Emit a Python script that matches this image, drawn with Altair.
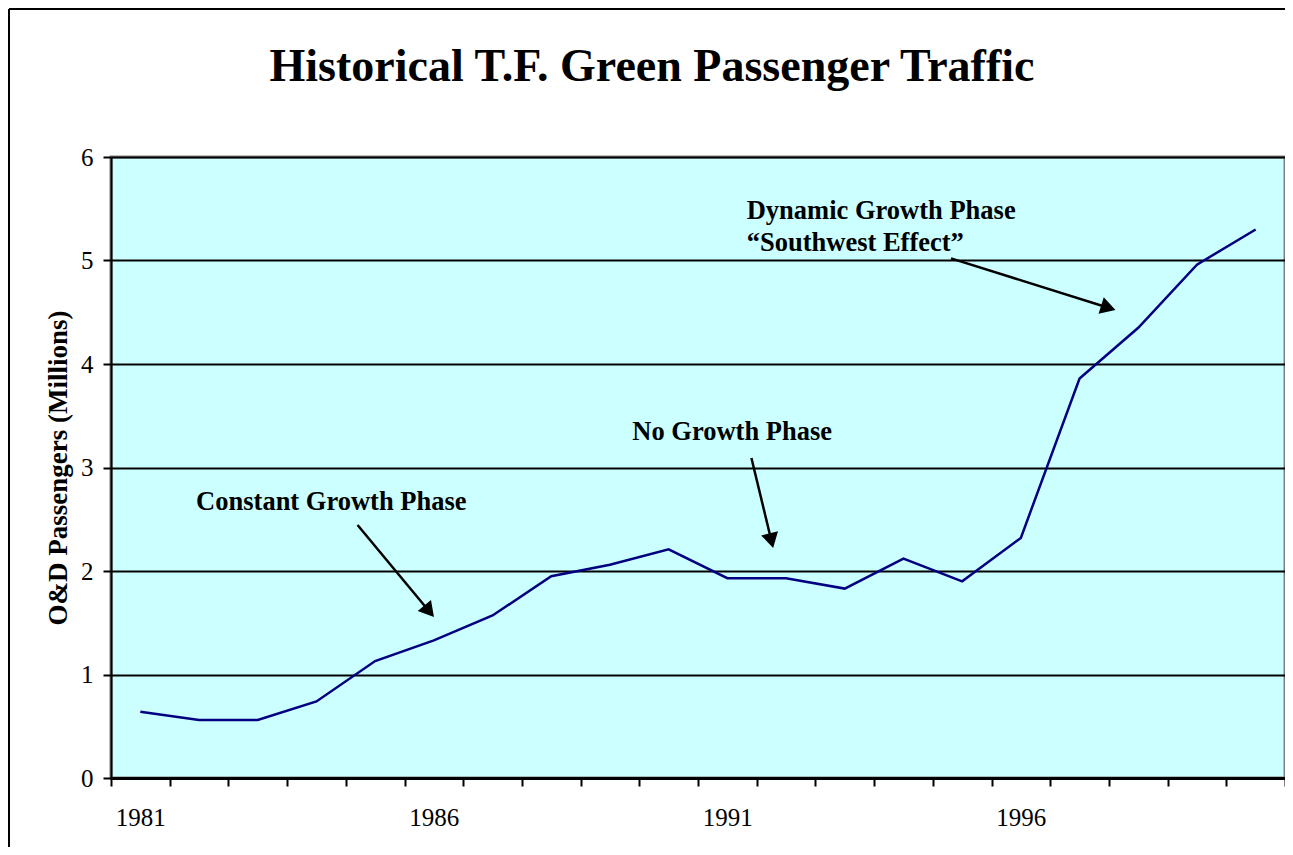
import altair as alt
import pandas as pd

# ---- data ----
years = list(range(1981, 2001))
passengers = [0.64, 0.56, 0.56, 0.74, 1.13, 1.33, 1.57, 1.95, 2.06, 2.21,
              1.93, 1.93, 1.83, 2.12, 1.90, 2.32, 3.86, 4.35, 4.96, 5.30]

title_text = ["Historical T.F. Green Passenger Traffic"]
y_title = "O&D Passengers (Millions)"

note_text = ["Dynamic Growth Phase", "\u201cSouthwest Effect\u201d",
             "Constant Growth Phase", "No Growth Phase"]
note_x = [1991.33, 1991.33, 1981.95, 1989.38]
note_y = [5.40, 5.09, 2.589, 3.266]

arrow_x0 = [1994.81, 1984.70, 1991.41]
arrow_y0 = [5.02, 2.444, 3.092]
arrow_x1 = [1997.49, 1985.92, 1991.75]
arrow_y1 = [4.544, 1.611, 2.293]
arrow_angle = [107.5, 140.1, 166.3]

tick_values = [y - 0.5 for y in years] + [2000.5]
y_ticks = [0, 1, 2, 3, 4, 5, 6]

W, H = 1174, 621
STEP = W / 20.0
FONT = "Liberation Serif"

df_line = pd.DataFrame({"year": years, "pax": passengers})
df_notes = pd.DataFrame({"t": note_text, "x": note_x, "y": note_y})
df_arrows = pd.DataFrame({"x": arrow_x0, "y": arrow_y0, "x2": arrow_x1,
                          "y2": arrow_y1, "ang": arrow_angle})
df_title = pd.DataFrame({"t": title_text})

xscale = alt.Scale(domain=[1980.5, 2000.5], nice=False, zero=False)
yscale = alt.Scale(domain=[0, 6], nice=False, zero=True)

xaxis = alt.Axis(values=tick_values, grid=False,
                 labelExpr="((datum.value - 1980.5) % 5 == 0 && datum.value < 2000) ? format(datum.value + 0.5, 'd') : ''",
                 labelOffset=STEP / 2, labelAlign="center",
                 labelFont=FONT, labelFontSize=25, labelColor="black",
                 labelPadding=19, labelFlush=False, labelOverlap=False,
                 tickSize=8, tickWidth=2, tickColor="black",
                 domainColor="black", domainWidth=3)
yaxis = alt.Axis(values=y_ticks, grid=True, gridColor="black", gridWidth=2.2,
                 labelFont=FONT, labelFontSize=25, labelColor="black",
                 labelPadding=10, tickSize=8, tickWidth=2, tickColor="black",
                 domainColor="black", domainWidth=2,
                 titleFont=FONT, titleFontSize=27, titleFontWeight="bold",
                 titleColor="black", titlePadding=8)


def X(field):
    return alt.X(field, scale=xscale, axis=xaxis, title=None)


def Y(field):
    return alt.Y(field, scale=yscale, axis=yaxis, title=y_title)


line = alt.Chart(df_line).mark_line(color="#000080", strokeWidth=2.5).encode(
    x=X("year:Q"), y=Y("pax:Q"))

shafts = alt.Chart(df_arrows).mark_rule(color="black", strokeWidth=2.5).encode(
    x=X("x:Q"), y=Y("y:Q"), x2="x2:Q", y2="y2:Q")

heads = alt.Chart(df_arrows).mark_point(shape="triangle-up", filled=True, color="black",
                                        opacity=1, size=300).encode(
    x=X("x2:Q"), y=Y("y2:Q"), angle=alt.Angle("ang:Q", scale=None))

notes = alt.Chart(df_notes).mark_text(align="left", baseline="alphabetic", font=FONT,
                                      fontSize=26.5, fontWeight="bold", color="black").encode(
    x=X("x:Q"), y=Y("y:Q"), text="t:N")

title = alt.Chart(df_title).mark_text(align="center", baseline="alphabetic", font=FONT,
                                      fontSize=46, fontWeight="bold", color="black").encode(
    x=alt.value(652 - 111), y=alt.value(81 - 157), text="t:N")

frame_left = alt.Chart(df_title).mark_rule(color="black", strokeWidth=2).encode(
    x=alt.value(-102), y=alt.value(-148), y2=alt.value(H + 69))
frame_top = alt.Chart(df_title).mark_rule(color="black", strokeWidth=2).encode(
    y=alt.value(-148), x=alt.value(-102), x2=alt.value(W))

chart = alt.layer(line, shafts, heads, notes, title, frame_left, frame_top).properties(
    width=W, height=H,
    padding={"left": 103, "top": 149, "right": 0, "bottom": 69},
    autosize=alt.AutoSizeParams(type="none"),
    background="white",
).configure_view(fill="#CCFFFF", stroke="#808080", strokeWidth=3)

chart.save("out.html", embed_options={"renderer": "svg", "actions": False})
